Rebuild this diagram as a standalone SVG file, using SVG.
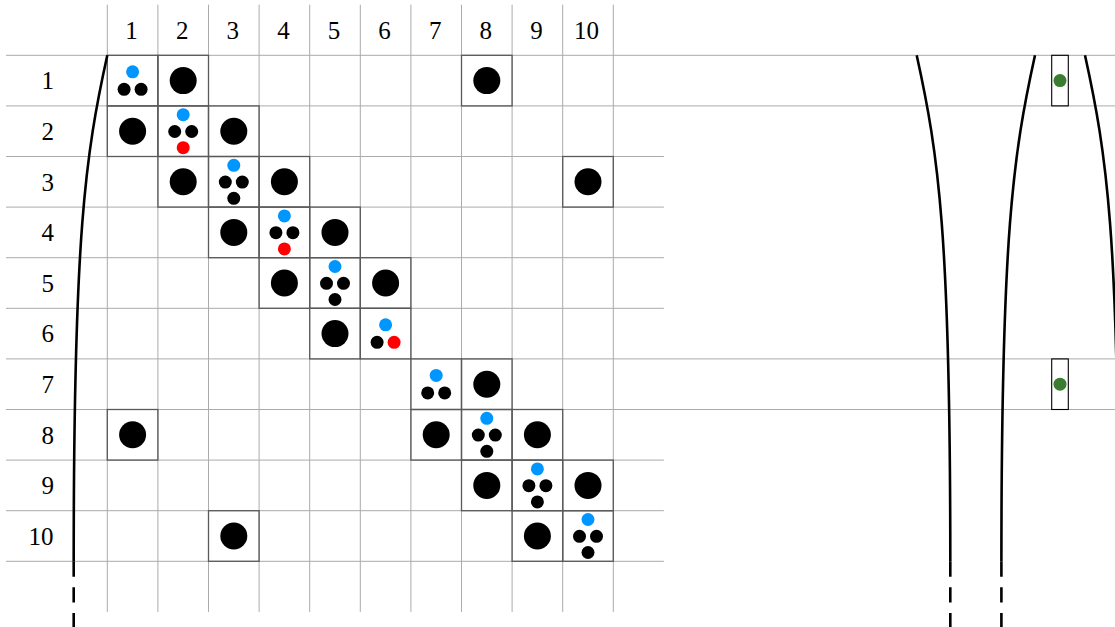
<svg xmlns="http://www.w3.org/2000/svg" xmlns:xlink="http://www.w3.org/1999/xlink" width="1115" height="627" viewBox="0 0 1115 627">
<style>
.grid{stroke:#ababab;stroke-width:1;fill:none}
.box{fill:none;stroke:#5a5a5a;stroke-width:1.3}
.lbl{font-family:"Liberation Serif","DejaVu Serif",serif;font-size:25px;fill:#000}
.col{text-anchor:middle}
.row{text-anchor:end}
.b{fill:#000}
.bl{fill:#0096ff}
.rd{fill:#ff0000}
.gr{fill:#3a7d30}
.curve{fill:none;stroke:#000;stroke-width:2.6}
.dash{fill:none;stroke:#000;stroke-width:2.6;stroke-dasharray:15.4 10.5}
.gbox{fill:none;stroke:#000;stroke-width:1.1}
</style>
<defs>
<g id="big"><rect class="box" x="-25.3" y="-25.3" width="50.6" height="50.6"/><circle class="b" r="13.5"/></g>
<g id="tri"><rect class="box" x="-25.3" y="-25.3" width="50.6" height="50.6"/><circle class="bl" cx="0" cy="-8.8" r="6.5"/><circle class="b" cx="-8.5" cy="8.7" r="6.5"/><circle class="b" cx="8.5" cy="8.7" r="6.5"/></g>
<g id="trir"><rect class="box" x="-25.3" y="-25.3" width="50.6" height="50.6"/><circle class="bl" cx="0" cy="-8.8" r="6.5"/><circle class="b" cx="-8.5" cy="8.7" r="6.5"/><circle class="rd" cx="8.5" cy="8.7" r="6.5"/></g>
<g id="quad"><rect class="box" x="-25.3" y="-25.3" width="50.6" height="50.6"/><circle class="bl" cx="0" cy="-16.5" r="6.5"/><circle class="b" cx="-8.5" cy="0.3" r="6.5"/><circle class="b" cx="8.5" cy="0.3" r="6.5"/><circle class="b" cx="0" cy="16.5" r="6.5"/></g>
<g id="quadr"><rect class="box" x="-25.3" y="-25.3" width="50.6" height="50.6"/><circle class="bl" cx="0" cy="-16.5" r="6.5"/><circle class="b" cx="-8.5" cy="0.3" r="6.5"/><circle class="b" cx="8.5" cy="0.3" r="6.5"/><circle class="rd" cx="0" cy="16.5" r="6.5"/></g>
<g id="gcell"><rect class="gbox" x="-8.3" y="-25.3" width="16.6" height="50.6"/><circle class="gr" r="6.5"/></g>
</defs>
<rect width="1115" height="627" fill="#fff"/>
<g id="grid">
<path class="grid" d="M107.3 4.7V611.9M157.9 4.7V611.9M208.5 4.7V611.9M259.1 4.7V611.9M309.7 4.7V611.9M360.3 4.7V611.9M410.9 4.7V611.9M461.5 4.7V611.9M512.1 4.7V611.9M562.7 4.7V611.9M613.3 4.7V611.9"/>
<path class="grid" d="M6 55.3H1115M6 105.9H1115M6 156.5H663.9M6 207.1H663.9M6 257.7H663.9M6 308.3H663.9M6 358.9H1115M6 409.5H1115M6 460.1H663.9M6 510.7H663.9M6 561.3H663.9"/>
</g>
<g id="labels">
<text class="lbl col" x="131.6" y="39.3">1</text>
<text class="lbl col" x="182.2" y="39.3">2</text>
<text class="lbl col" x="232.8" y="39.3">3</text>
<text class="lbl col" x="283.4" y="39.3">4</text>
<text class="lbl col" x="334" y="39.3">5</text>
<text class="lbl col" x="384.6" y="39.3">6</text>
<text class="lbl col" x="435.2" y="39.3">7</text>
<text class="lbl col" x="485.8" y="39.3">8</text>
<text class="lbl col" x="536.4" y="39.3">9</text>
<text class="lbl col" x="586.4" y="39.3">10</text>
<text class="lbl row" x="54" y="89.3">1</text>
<text class="lbl row" x="54" y="139.9">2</text>
<text class="lbl row" x="54" y="190.5">3</text>
<text class="lbl row" x="54" y="241.1">4</text>
<text class="lbl row" x="54" y="291.7">5</text>
<text class="lbl row" x="54" y="342.3">6</text>
<text class="lbl row" x="54" y="392.9">7</text>
<text class="lbl row" x="54" y="443.5">8</text>
<text class="lbl row" x="54" y="494.1">9</text>
<text class="lbl row" x="53.5" y="544.7">10</text>
</g>
<g id="nodes">
<g id="n1-1"><use href="#tri" x="132.6" y="80.6"/></g>
<g id="n1-2"><use href="#big" x="183.2" y="80.6"/></g>
<g id="n1-8"><use href="#big" x="486.8" y="80.6"/></g>
<g id="n2-1"><use href="#big" x="132.6" y="131.2"/></g>
<g id="n2-2"><use href="#quadr" x="183.2" y="131.2"/></g>
<g id="n2-3"><use href="#big" x="233.8" y="131.2"/></g>
<g id="n3-2"><use href="#big" x="183.2" y="181.8"/></g>
<g id="n3-3"><use href="#quad" x="233.8" y="181.8"/></g>
<g id="n3-4"><use href="#big" x="284.4" y="181.8"/></g>
<g id="n3-10"><use href="#big" x="588" y="181.8"/></g>
<g id="n4-3"><use href="#big" x="233.8" y="232.4"/></g>
<g id="n4-4"><use href="#quadr" x="284.4" y="232.4"/></g>
<g id="n4-5"><use href="#big" x="335" y="232.4"/></g>
<g id="n5-4"><use href="#big" x="284.4" y="283"/></g>
<g id="n5-5"><use href="#quad" x="335" y="283"/></g>
<g id="n5-6"><use href="#big" x="385.6" y="283"/></g>
<g id="n6-5"><use href="#big" x="335" y="333.6"/></g>
<g id="n6-6"><use href="#trir" x="385.6" y="333.6"/></g>
<g id="n7-7"><use href="#tri" x="436.2" y="384.2"/></g>
<g id="n7-8"><use href="#big" x="486.8" y="384.2"/></g>
<g id="n8-1"><use href="#big" x="132.6" y="434.8"/></g>
<g id="n8-7"><use href="#big" x="436.2" y="434.8"/></g>
<g id="n8-8"><use href="#quad" x="486.8" y="434.8"/></g>
<g id="n8-9"><use href="#big" x="537.4" y="434.8"/></g>
<g id="n9-8"><use href="#big" x="486.8" y="485.4"/></g>
<g id="n9-9"><use href="#quad" x="537.4" y="485.4"/></g>
<g id="n9-10"><use href="#big" x="588" y="485.4"/></g>
<g id="n10-3"><use href="#big" x="233.8" y="536"/></g>
<g id="n10-9"><use href="#big" x="537.4" y="536"/></g>
<g id="n10-10"><use href="#quad" x="588" y="536"/></g>
<g id="g1"><use href="#gcell" x="1060" y="80.6"/></g>
<g id="g7"><use href="#gcell" x="1060" y="384.2"/></g>
</g>
<g id="connectors">
<path class="curve" d="M107.3 55.3C85.3 155.3 73.7 235 73.7 561.3"/>
<path class="dash" d="M73.7 561.3V627"/>
<path class="curve" d="M916.7 55.3C938.7 155.3 950.3 235 950.3 561.3"/>
<path class="dash" d="M950.3 561.3V627"/>
<path class="curve" d="M1035 55.3C1013 155.3 1001.4 235 1001.4 561.3"/>
<path class="dash" d="M1001.4 561.3V627"/>
<path class="curve" d="M1085 55.3C1107 155.3 1118.6 235 1118.6 561.3"/>
</g>
</svg>
